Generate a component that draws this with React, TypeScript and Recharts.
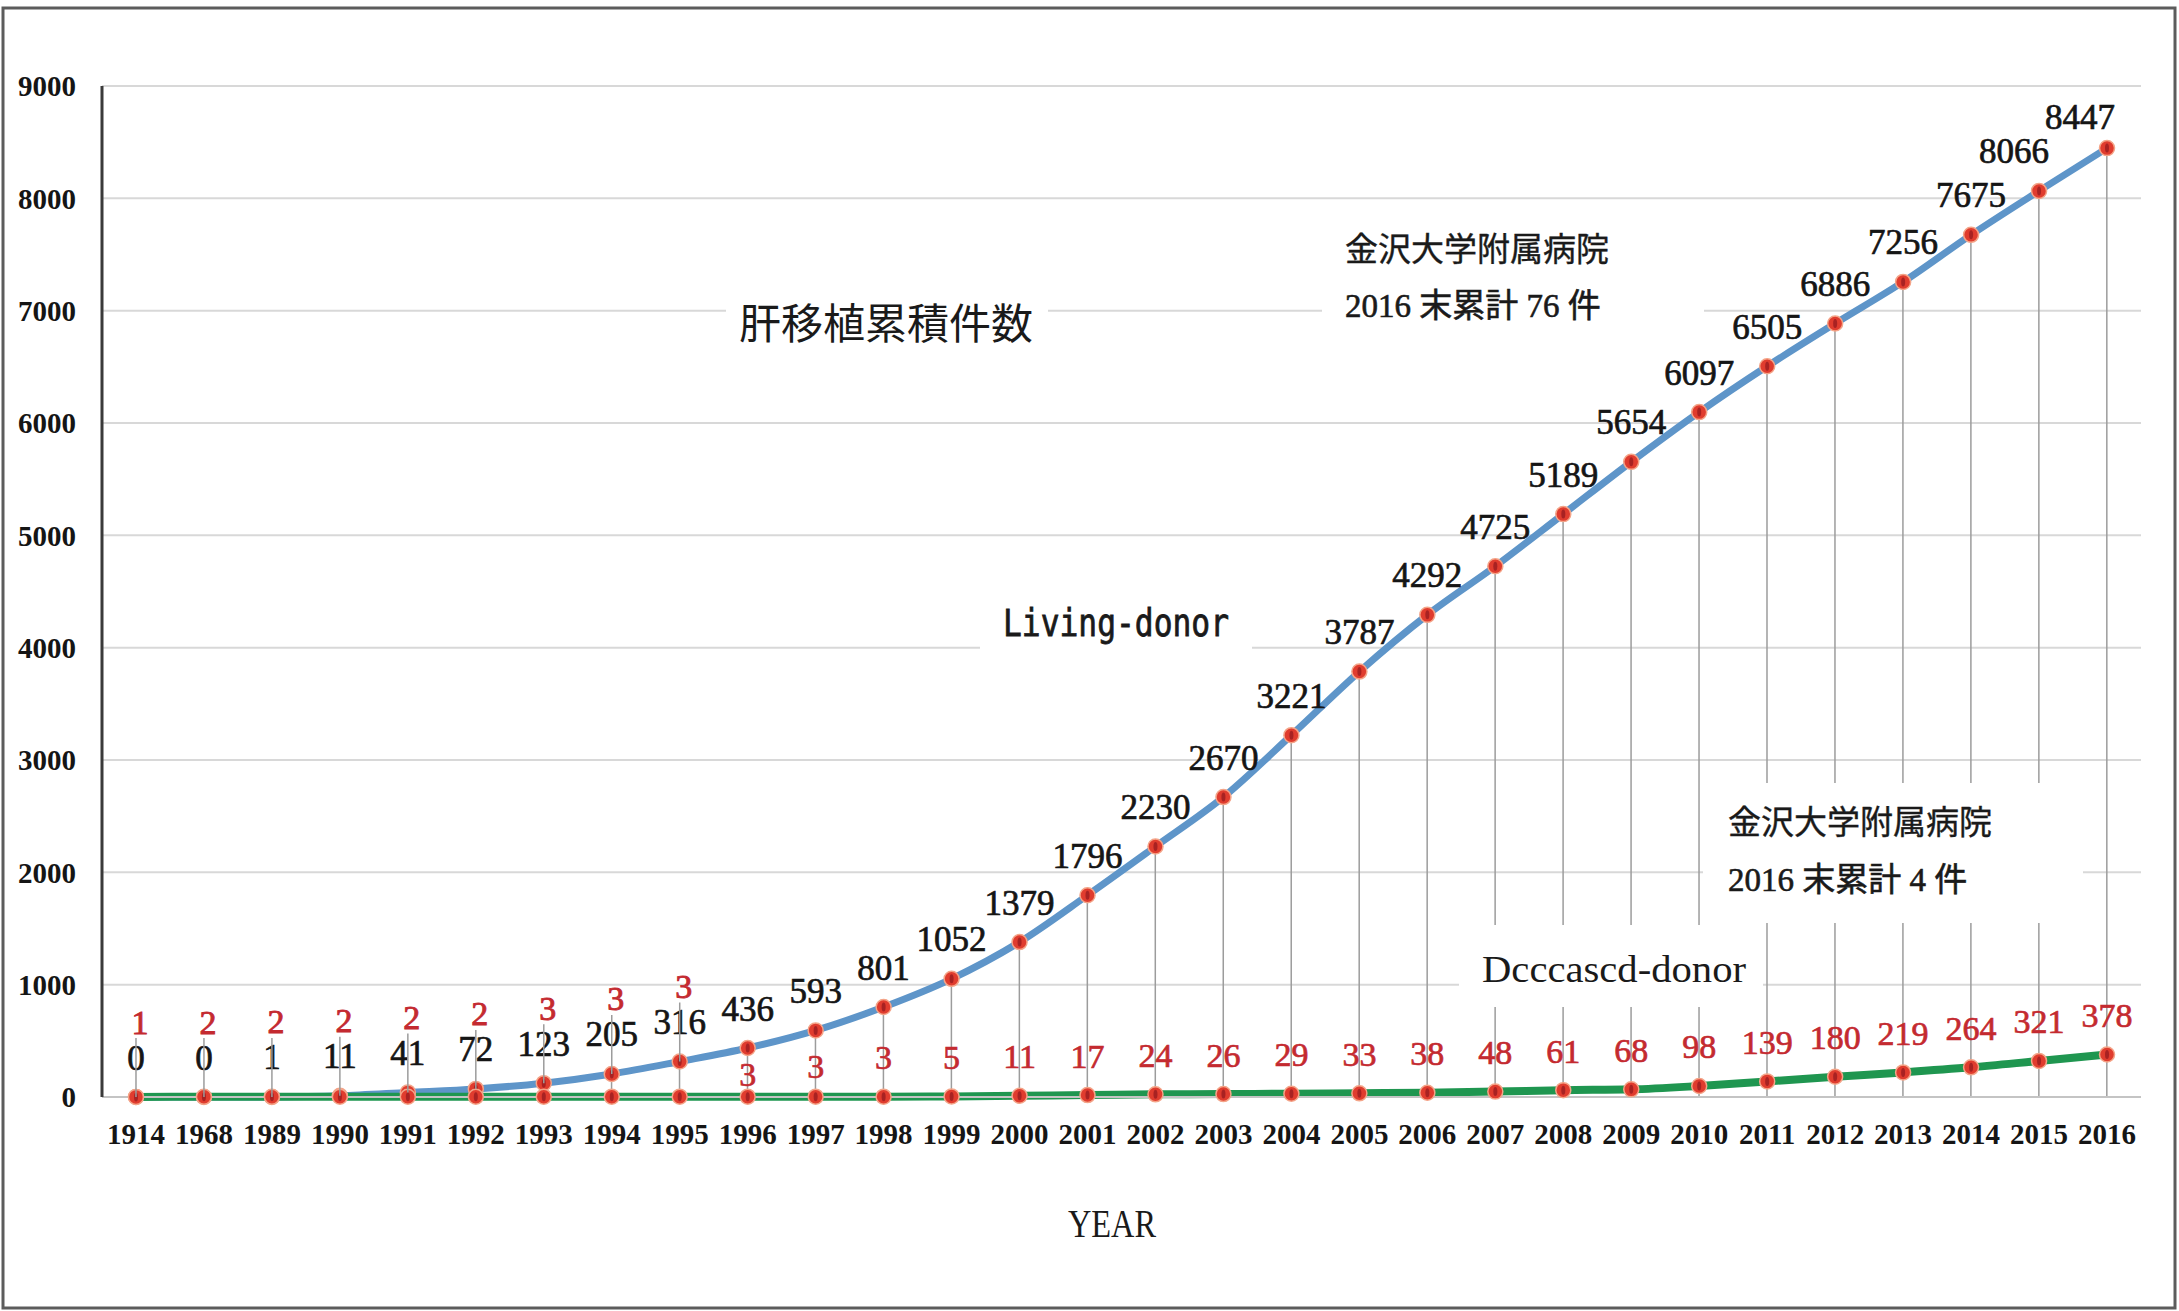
import React from 'react';
import { ComposedChart, Line, Bar, XAxis, YAxis, CartesianGrid, LabelList } from 'recharts';

const years = ['1914', '1968', '1989', '1990', '1991', '1992', '1993', '1994', '1995', '1996', '1997', '1998', '1999', '2000', '2001', '2002', '2003', '2004', '2005', '2006', '2007', '2008', '2009', '2010', '2011', '2012', '2013', '2014', '2015', '2016'];
const livingDonor = [0, 0, 1, 11, 41, 72, 123, 205, 316, 436, 593, 801, 1052, 1379, 1796, 2230, 2670, 3221, 3787, 4292, 4725, 5189, 5654, 6097, 6505, 6886, 7256, 7675, 8066, 8447];
const deceasedDonor = [1, 2, 2, 2, 2, 2, 3, 3, 3, 3, 3, 3, 5, 11, 17, 24, 26, 29, 33, 38, 48, 61, 68, 98, 139, 180, 219, 264, 321, 378];
const yTicks = [0, 1000, 2000, 3000, 4000, 5000, 6000, 7000, 8000, 9000];

const titleText = '肝移植累積件数';
const livingLabel = 'Living-donor';
const deceasedLabel = 'Dcccascd-donor';
const hospitalName = '金沢大学附属病院';
const livingNote = '2016 末累計 76 件';
const deceasedNote = '2016 末累計 4 件';
const xAxisTitle = 'YEAR';

const data = years.map((year, i) => ({ year, living: livingDonor[i], deceased: deceasedDonor[i] }));

const W = 2179;
const H = 1311;
const EARLY_COUNT = 9;
const SERIF = "'Liberation Serif', 'Times New Roman', serif";
const CJK = "'Liberation Serif', 'Noto Sans CJK JP', sans-serif";
const RED = '#c42a30';
const INK = '#151515';

const pos = (p: any) => ({
  x: p.x ?? (p.viewBox ? p.viewBox.x : 0),
  y: p.y ?? (p.viewBox ? p.viewBox.y : 0),
});

const DropLine = (props: any) => {
  const { x, y, width, height } = props;
  if (x == null || !height) return null;
  const cx = x + width / 2;
  return <line x1={cx} x2={cx} y1={y} y2={y + height} stroke="#9c9c9c" strokeWidth={1.5} />;
};

const Marker = (props: any) => {
  const { cx, cy } = props;
  if (cx == null || cy == null) return null;
  return (
    <g>
      <circle cx={cx} cy={cy} r={7.5} fill="#e03c2e" stroke="#f4a488" strokeWidth={1.5} />
      <ellipse cx={cx} cy={cy} rx={2} ry={4.5} fill="#951a1f" opacity={0.75} />
    </g>
  );
};

const LivingLabelView = (props: any) => {
  const { x, y } = pos(props);
  const i = props.index;
  const n = years.length;
  let dx = 0;
  let dy = -39;
  if (i === n - 2) dx = -25;
  if (i === n - 1) {
    dx = -27;
    dy = -31;
  }
  return (
    <text x={x + dx} y={y + dy} textAnchor="middle" dominantBaseline="central" fontFamily={SERIF} fontSize={35} fill={INK} stroke={INK} strokeWidth={0.7}>
      {props.value}
    </text>
  );
};

const DeceasedEarlyLabel = (props: any) => {
  const i = props.index;
  if (i == null || i >= EARLY_COUNT) return null;
  const { x, y } = pos(props);
  const ly = y - 75;
  return (
    <g>
      <line x1={x} x2={x} y1={ly + 16} y2={y} stroke="#9c9c9c" strokeWidth={1.5} />
      <text x={x + 4} y={ly} textAnchor="middle" dominantBaseline="central" fontFamily={SERIF} fontSize={34} fill={RED} stroke={RED} strokeWidth={0.9}>
        {props.value}
      </text>
    </g>
  );
};

const DeceasedLabelView = (props: any) => {
  const i = props.index;
  if (i == null || i < EARLY_COUNT) return null;
  const { x, y } = pos(props);
  const off = i === EARLY_COUNT ? 22 : i === EARLY_COUNT + 1 ? 30 : 39;
  return (
    <text x={x} y={y - off} textAnchor="middle" dominantBaseline="central" fontFamily={SERIF} fontSize={34} fill={RED} stroke={RED} strokeWidth={0.7}>
      {props.value}
    </text>
  );
};

const tickStyle = { fontFamily: SERIF, fontSize: 29, fontWeight: 'bold', fill: INK };

export default function App() {
  return (
    <div style={{ position: 'absolute', left: 0, top: 0, width: W, height: H, background: '#ffffff' }}>
      <ComposedChart width={W} height={H} data={data} margin={{ top: 86, right: 38, left: 0, bottom: 154 }}>
        <CartesianGrid vertical={false} stroke="#d8d8d8" strokeWidth={2} />
        <XAxis
          dataKey="year"
          interval={0}
          tickLine={false}
          tickSize={0}
          tickMargin={26}
          height={60}
          axisLine={{ stroke: '#c4c4c4', strokeWidth: 2 }}
          tick={tickStyle}
        />
        <XAxis xAxisId="top" orientation="top" dataKey="year" tick={false} tickLine={false} height={0} axisLine={{ stroke: '#3a3a3a', strokeWidth: 3 }} />
        <YAxis
          domain={[0, 9000]}
          ticks={yTicks}
          interval={0}
          tickLine={false}
          tickSize={0}
          tickMargin={26}
          width={102}
          axisLine={{ stroke: '#3a3a3a', strokeWidth: 3 }}
          tick={tickStyle}
        />
        <YAxis yAxisId="right" orientation="right" domain={[0, 9000]} tick={false} tickLine={false} width={0} axisLine={{ stroke: '#3a3a3a', strokeWidth: 3 }} />
        <Bar dataKey="living" shape={DropLine} isAnimationActive={false} />
        <Line
          type="monotone"
          dataKey="living"
          stroke="#5e95c9"
          strokeWidth={7}
          dot={Marker}
          activeDot={false}
          isAnimationActive={false}
        >
          <LabelList dataKey="living" content={LivingLabelView} />
          <LabelList dataKey="deceased" content={DeceasedEarlyLabel} />
        </Line>
        <Line
          type="monotone"
          dataKey="deceased"
          stroke="#1f9650"
          strokeWidth={8}
          dot={Marker}
          activeDot={false}
          isAnimationActive={false}
        >
          <LabelList dataKey="deceased" content={DeceasedLabelView} />
        </Line>
      </ComposedChart>
      <svg width={W} height={H} style={{ position: 'absolute', left: 0, top: 0, pointerEvents: 'none' }}>
        <rect x={3} y={8} width={2172} height={1300} fill="none" stroke="#5c5c5c" strokeWidth={3} />
        <rect x={726} y={294} width={322} height={54} fill="#ffffff" />
        <text x={886} y={320} textAnchor="middle" dominantBaseline="central" fontFamily="'Noto Sans CJK JP', sans-serif" fontSize={42} fill="#1a1a1a">
          {titleText}
        </text>
        <rect x={1322} y={218} width={382} height={120} fill="#ffffff" />
        <text x={1345} y={250} dominantBaseline="central" fontFamily={CJK} fontSize={33} fill="#1a1a1a" stroke="#1a1a1a" strokeWidth={0.4}>{hospitalName}</text>
        <text x={1345} y={306} dominantBaseline="central" fontFamily={CJK} fontSize={33} fill="#1a1a1a" stroke="#1a1a1a" strokeWidth={0.6}>{livingNote}</text>
        <rect x={980} y={597} width={272} height={59} fill="#ffffff" />
        <text x={1003} y={623} dominantBaseline="central" fontFamily="'DejaVu Sans Mono', monospace" fontSize={37} textLength={226} lengthAdjust="spacingAndGlyphs" fill="#1a1a1a" stroke="#1a1a1a" strokeWidth={0.8}>
          {livingLabel}
        </text>
        <rect x={1459} y={925} width={304} height={82} fill="#ffffff" />
        <text x={1482} y={969} dominantBaseline="central" fontFamily={SERIF} fontSize={38} textLength={264} lengthAdjust="spacingAndGlyphs" fill="#1a1a1a">
          {deceasedLabel}
        </text>
        <rect x={1703} y={783} width={380} height={140} fill="#ffffff" />
        <text x={1728} y={823} dominantBaseline="central" fontFamily={CJK} fontSize={33} fill="#1a1a1a" stroke="#1a1a1a" strokeWidth={0.4}>{hospitalName}</text>
        <text x={1728} y={880} dominantBaseline="central" fontFamily={CJK} fontSize={33} fill="#1a1a1a" stroke="#1a1a1a" strokeWidth={0.6}>{deceasedNote}</text>
        <text x={1112} y={1223} textAnchor="middle" dominantBaseline="central" fontFamily={SERIF} fontSize={40} textLength={88} lengthAdjust="spacingAndGlyphs" fill="#1a1a1a">
          {xAxisTitle}
        </text>
      </svg>
    </div>
  );
}
